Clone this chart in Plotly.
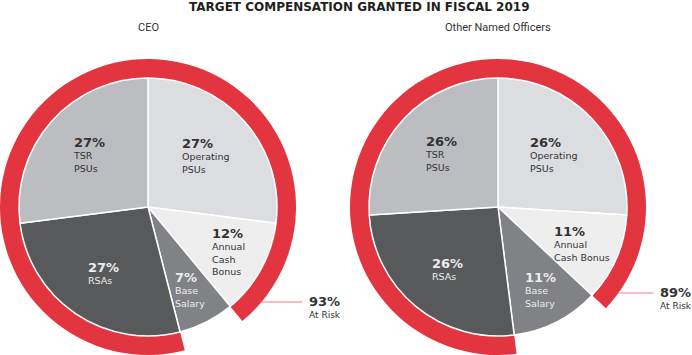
import math
import plotly.graph_objects as go

# ---------------- data ----------------
categories = ["Operating PSUs", "Annual Cash Bonus", "Base Salary", "RSAs", "TSR PSUs"]
ceo_values = [27, 12, 7, 27, 27]
other_values = [26, 11, 11, 26, 26]
ceo_labels = ["Operating<br>PSUs", "Annual<br>Cash<br>Bonus", "Base<br>Salary", "RSAs", "TSR<br>PSUs"]
other_labels = ["Operating<br>PSUs", "Annual<br>Cash Bonus", "Base<br>Salary", "RSAs", "TSR<br>PSUs"]
at_risk_category = "Base Salary"   # the only slice not at risk
chart_titles = ["CEO", "Other Named Officers"]
main_title = "TARGET COMPENSATION GRANTED IN FISCAL 2019"

# ---------------- styling / layout ----------------
W, H = 692, 355
slice_colors = ["#dcdde0", "#eeeeef", "#808285", "#58595b", "#bcbdc0"]
label_colors = ["#333333", "#333333", "#ececec", "#ececec", "#333333"]
label_rfrac = [0.60, 0.71, 0.72, 0.62, 0.61]
RED = "#e3353f"
LEADER = "#ef7f88"
centers = [(148, 207), (498, 207)]
R_PIE, R_RING = 129, 148
leader_y = [302, 293]
leader_len = [41, 35]

fig = go.Figure()
annotations = []
shapes = []


def px_x(x):
    return x / W


def px_y(y):
    return 1 - y / H


for idx, (values, labels) in enumerate([(ceo_values, ceo_labels), (other_values, other_labels)]):
    cx, cy = centers[idx]
    total = sum(values)
    safe_i = categories.index(at_risk_category)
    safe = values[safe_i]
    at_risk = total - safe

    # outer "at risk" ring
    ring_start = sum(values[: safe_i + 1]) / total * 360.0
    if ring_start > 180:
        ring_start -= 360
    fig.add_trace(go.Pie(
        values=[at_risk, safe],
        labels=["At Risk", "Not at risk"],
        marker=dict(colors=[RED, "rgba(0,0,0,0)"], line=dict(width=0)),
        hole=R_PIE / R_RING,
        sort=False, direction="clockwise", rotation=ring_start,
        textinfo="none", hoverinfo="label+value", showlegend=False,
        domain=dict(x=[px_x(cx - R_RING), px_x(cx + R_RING)],
                    y=[max(0, px_y(cy + R_RING)), px_y(cy - R_RING)]),
    ))

    # inner pie
    fig.add_trace(go.Pie(
        values=values, labels=categories,
        marker=dict(colors=slice_colors, line=dict(color="white", width=1.5)),
        sort=False, direction="clockwise", rotation=0,
        textinfo="none", hoverinfo="label+value", showlegend=False,
        domain=dict(x=[px_x(cx - R_PIE), px_x(cx + R_PIE)],
                    y=[px_y(cy + R_PIE), px_y(cy - R_PIE)]),
    ))

    # slice labels placed along each slice's mid-angle
    cum = 0
    for i, v in enumerate(values):
        mid = (cum + v / 2) / total * 2 * math.pi
        cum += v
        rr = R_PIE * label_rfrac[i]
        lx = cx + rr * math.sin(mid)
        ly = cy - rr * math.cos(mid)
        annotations.append(dict(
            x=px_x(lx), y=px_y(ly), xref="paper", yref="paper",
            xanchor="center", yanchor="middle", align="left", showarrow=False,
            text=f"<span style='font-size:13px'><b>{v}%</b></span><br>{labels[i]}",
            font=dict(family="DejaVu Sans", size=9.5, color=label_colors[i]),
        ))

    # leader line + "At Risk" callout
    ly = leader_y[idx]
    x0 = cx + math.sqrt(R_RING ** 2 - (ly - cy) ** 2)
    x1 = x0 + leader_len[idx]
    shapes.append(dict(type="line", xref="paper", yref="paper",
                       x0=px_x(x0 - 1), x1=px_x(x1), y0=px_y(ly), y1=px_y(ly),
                       line=dict(color=LEADER, width=1)))
    annotations.append(dict(
        x=px_x(x1 + 5), y=px_y(ly + 5), xref="paper", yref="paper",
        xanchor="left", yanchor="middle", align="left", showarrow=False,
        text=f"<span style='font-size:13px'><b>{at_risk}%</b></span><br>At Risk",
        font=dict(family="DejaVu Sans", size=9, color="#333333"),
    ))

    # chart subtitle
    annotations.append(dict(
        x=px_x(cx), y=px_y(27), xref="paper", yref="paper",
        xanchor="center", yanchor="middle", showarrow=False,
        text=chart_titles[idx],
        font=dict(family="Roboto", size=11, color="#333333"),
    ))

annotations.append(dict(
    x=px_x(359), y=px_y(7), xref="paper", yref="paper",
    xanchor="center", yanchor="middle", showarrow=False,
    text=f"<b>{main_title}</b>",
    font=dict(family="DejaVu Sans", size=12, color="#231f20"),
))

fig.update_layout(
    width=W, height=H,
    margin=dict(l=0, r=0, t=0, b=0),
    paper_bgcolor="white", plot_bgcolor="white",
    annotations=annotations, shapes=shapes,
    showlegend=False,
)

fig.write_html("out.html", config={"displayModeBar": False},
               post_script="document.body.style.margin='0px';")
